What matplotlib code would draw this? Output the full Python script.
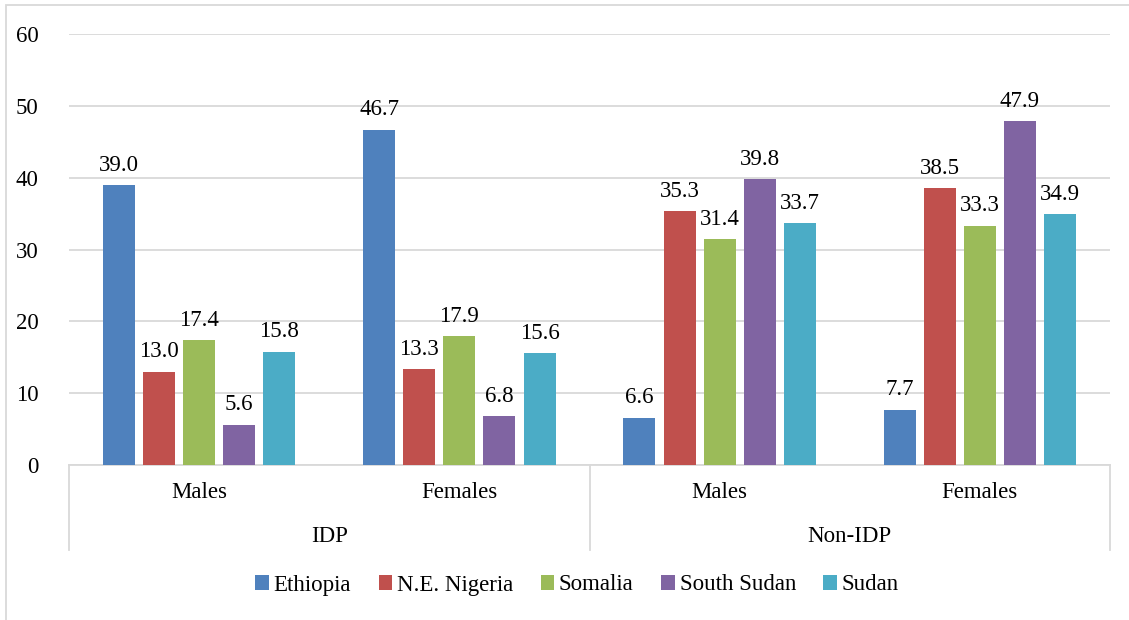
import matplotlib.pyplot as plt
from matplotlib.lines import Line2D
from matplotlib.patches import Rectangle

plt.rcParams['font.family'] = 'serif'
plt.rcParams['font.serif'] = ['Liberation Serif', 'DejaVu Serif']

groups = ['IDP', 'Non-IDP']
sexes = ['Males', 'Females', 'Males', 'Females']
countries = ['Ethiopia', 'N.E. Nigeria', 'Somalia', 'South Sudan', 'Sudan']
colors = ['#4F81BD', '#C0504D', '#9BBB59', '#8064A2', '#4BACC6']

ethiopia = [39.0, 46.7, 6.6, 7.7]
nigeria = [13.0, 13.3, 35.3, 38.5]
somalia = [17.4, 17.9, 31.4, 33.3]
south_sudan = [5.6, 6.8, 39.8, 47.9]
sudan = [15.8, 15.6, 33.7, 34.9]
series = [ethiopia, nigeria, somalia, south_sudan, sudan]

W, H = 1129, 620
FS = 16.5
fig = plt.figure(figsize=(W / 100, H / 100), dpi=100)

left, right, top, bottom = 69, 1110, 34, 465
ax = fig.add_axes([left / W, 1 - bottom / H, (right - left) / W, (bottom - top) / H])

bar_w = 0.123
step = 0.154
for i, (name, vals, c) in enumerate(zip(countries, series, colors)):
    xs = [k + 0.5 + (i - 2) * step for k in range(len(vals))]
    ax.bar(xs, vals, width=bar_w, color=c, label=name, zorder=3)
    for x, v in zip(xs, vals):
        ax.text(x, v + 1.3, f'{v:.1f}', ha='center', va='bottom', fontsize=FS)

ax.set_xlim(0, 4)
ax.set_ylim(0, 60)
ax.set_yticks(range(0, 61, 10))
ax.tick_params(axis='y', length=0, labelsize=FS, pad=22)
ax.set_xticks([])
ax.grid(axis='y', color='#D9D9D9', linewidth=1.3, zorder=0)
for s in ['top', 'right', 'left']:
    ax.spines[s].set_visible(False)
ax.spines['bottom'].set_color('#D9D9D9')
ax.spines['bottom'].set_linewidth(1.3)

# two-level category axis
for k, lab in enumerate(sexes):
    xf = (left + (right - left) * (k + 0.5) / 4) / W
    fig.text(xf, 1 - 493 / H, lab, ha='center', va='center', fontsize=FS)
for k, lab in enumerate(groups):
    xf = (left + (right - left) * (2 * k + 1) / 4) / W
    fig.text(xf, 1 - 536 / H, lab, ha='center', va='center', fontsize=FS)
for xp in [left, (left + right) / 2, right]:
    fig.add_artist(Line2D([xp / W, xp / W], [1 - bottom / H, 1 - 550 / H],
                          color='#D9D9D9', linewidth=1.3))

# chart border
fig.add_artist(Rectangle((6 / W, -0.05), 1.2, 1 - 5 / H + 0.05, transform=fig.transFigure,
                         fill=False, edgecolor='#D9D9D9', linewidth=1.3))

fig.legend(loc='center', bbox_to_anchor=(577 / W, 1 - 585 / H), ncol=5, frameon=False,
           fontsize=FS, handlelength=0.6, handleheight=0.6, handletextpad=0.2,
           columnspacing=1.2)

fig.savefig('out.png', dpi=100)
